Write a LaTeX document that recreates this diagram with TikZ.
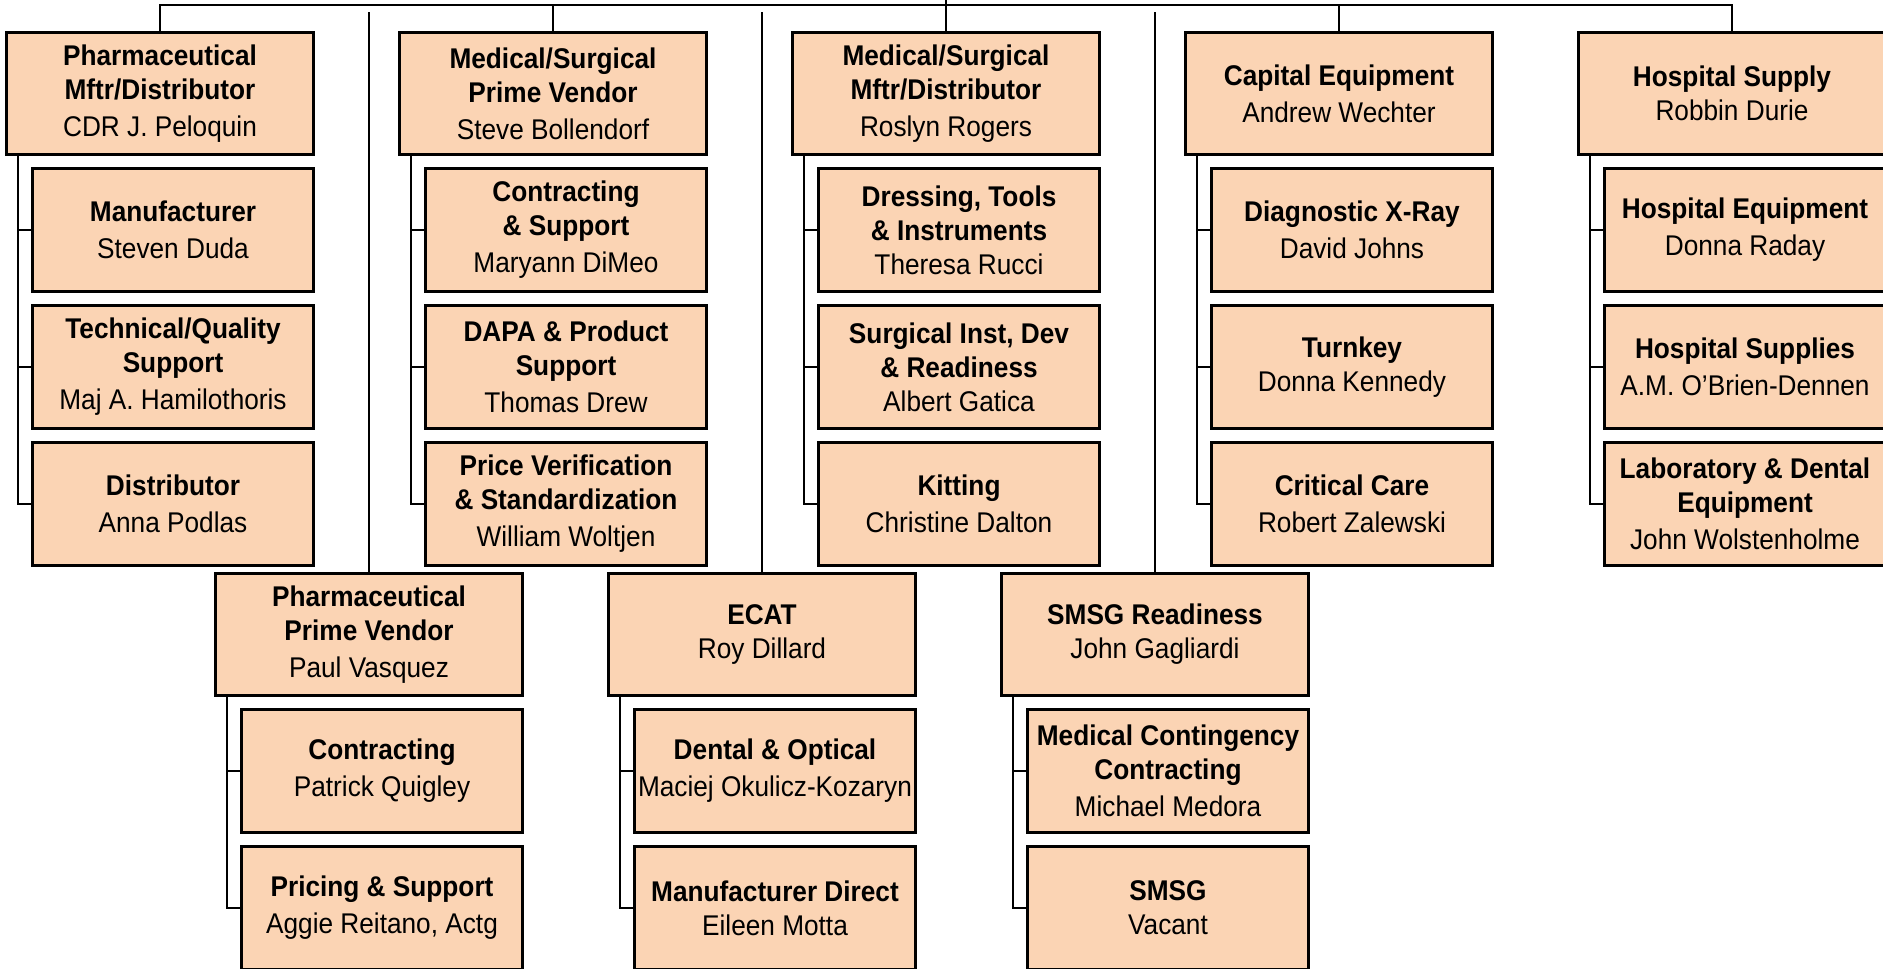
\documentclass[tikz,border=0pt]{standalone}
\usepackage{fontspec}
\setmainfont{Liberation Sans}[FakeStretch=0.92]
\usetikzlibrary{positioning}
\definecolor{peach}{RGB}{251,212,180}

\begin{document}
\begin{tikzpicture}[x=1pt, y=-1pt,
		office/.style={draw, line width=3pt, fill=peach, anchor=north west, minimum width=307pt, minimum height=122pt, inner sep=2pt, align=center, font=\fontsize{28.5}{34}\selectfont},
		under/.style={office, minimum width=281pt, minimum height=123pt, below=11pt of #1.south east, anchor=north east},
		link/.style={line width=2pt}]
	\useasboundingbox (0,0) rectangle (1883,969);
	\clip (0,0) rectangle (1883,969);
	\coordinate (edge) at (0,0);
	\coordinate (top) at (0,5);
	\coordinate (gap) at (0,12);

	\node[office] (pmd) at (5,31) {\textbf{Pharmaceutical}\\\textbf{Mftr/Distributor}\\[3pt]CDR J. Peloquin};
	\node[under=pmd] (man) {\textbf{Manufacturer}\\[3pt]Steven Duda};
	\node[under=man] (tqs) {\textbf{Technical/Quality}\\\textbf{Support}\\[3pt]Maj A. Hamilothoris};
	\node[under=tqs] (dist) {\textbf{Distributor}\\[3pt]Anna Podlas};

	\node[office] (mspv) at (398,31) {\textbf{Medical/Surgical}\\\textbf{Prime Vendor}\\[3pt]Steve Bollendorf};
	\node[under=mspv] (cs) {\textbf{Contracting}\\\textbf{\& Support}\\[3pt]Maryann DiMeo};
	\node[under=cs] (dapa) {\textbf{DAPA \& Product}\\\textbf{Support}\\[3pt]Thomas Drew};
	\node[under=dapa] (pvs) {\textbf{Price Verification}\\\textbf{\& Standardization}\\[3pt]William Woltjen};

	\node[office] (msmd) at (791,31) {\textbf{Medical/Surgical}\\\textbf{Mftr/Distributor}\\[3pt]Roslyn Rogers};
	\node[under=msmd] (dti) {\textbf{Dressing, Tools}\\\textbf{\& Instruments}\\Theresa Rucci};
	\node[under=dti] (sidr) {\textbf{Surgical Inst, Dev}\\\textbf{\& Readiness}\\Albert Gatica};
	\node[under=sidr] (kit) {\textbf{Kitting}\\[3pt]Christine Dalton};

	\node[office] (cap) at (1184,31) {\textbf{Capital Equipment}\\[3pt]Andrew Wechter};
	\node[under=cap] (dxr) {\textbf{Diagnostic X-Ray}\\[3pt]David Johns};
	\node[under=dxr] (turn) {\textbf{Turnkey}\\Donna Kennedy};
	\node[under=turn] (cc) {\textbf{Critical Care}\\[3pt]Robert Zalewski};

	\node[office] (hs) at (1577,31) {\textbf{Hospital Supply}\\Robbin Durie};
	\node[under=hs] (heq) {\textbf{Hospital Equipment}\\[3pt]Donna Raday};
	\node[under=heq] (hsup) {\textbf{Hospital Supplies}\\[3pt]A.M. O’Brien-Dennen};
	\node[under=hsup] (lde) {\textbf{Laboratory \& Dental}\\\textbf{Equipment}\\[3pt]John Wolstenholme};

	\node[office] (ppv) at (214,572) {\textbf{Pharmaceutical}\\\textbf{Prime Vendor}\\[3pt]Paul Vasquez};
	\node[under=ppv] (con) {\textbf{Contracting}\\[3pt]Patrick Quigley};
	\node[under=con] (pri) {\textbf{Pricing \& Support}\\[3pt]Aggie Reitano, Actg};

	\node[office] (ecat) at (607,572) {\textbf{ECAT}\\Roy Dillard};
	\node[under=ecat] (dent) {\textbf{Dental \& Optical}\\[3pt]Maciej Okulicz-Kozaryn};
	\node[under=dent] (mdir) {\textbf{Manufacturer Direct}\\Eileen Motta};

	\node[office] (smsgr) at (1000,572) {\textbf{SMSG Readiness}\\John Gagliardi};
	\node[under=smsgr] (mcc) {\textbf{Medical Contingency}\\\textbf{Contracting}\\[3pt]Michael Medora};
	\node[under=mcc] (smsg) {\textbf{SMSG}\\Vacant};

	\draw[link] (pmd.north) -- (pmd.north |- top) -- (hs.north |- top) -- (hs.north);
	\draw[link] (msmd.north) -- (msmd.north |- edge);
	\foreach \h in {mspv, cap}
		\draw[link] (\h.north) -- (\h.north |- top);
	\foreach \h in {ppv, ecat, smsgr}
		\draw[link] (\h.north) -- (\h.north |- gap);
	\foreach \h/\c in {pmd/man, pmd/tqs, pmd/dist, mspv/cs, mspv/dapa, mspv/pvs, msmd/dti, msmd/sidr, msmd/kit, cap/dxr, cap/turn, cap/cc, hs/heq, hs/hsup, hs/lde, ppv/con, ppv/pri, ecat/dent, ecat/mdir, smsgr/mcc, smsgr/smsg}
		\draw[link] ([xshift=13pt]\h.south west) |- (\c.west);
\end{tikzpicture}
\end{document}
